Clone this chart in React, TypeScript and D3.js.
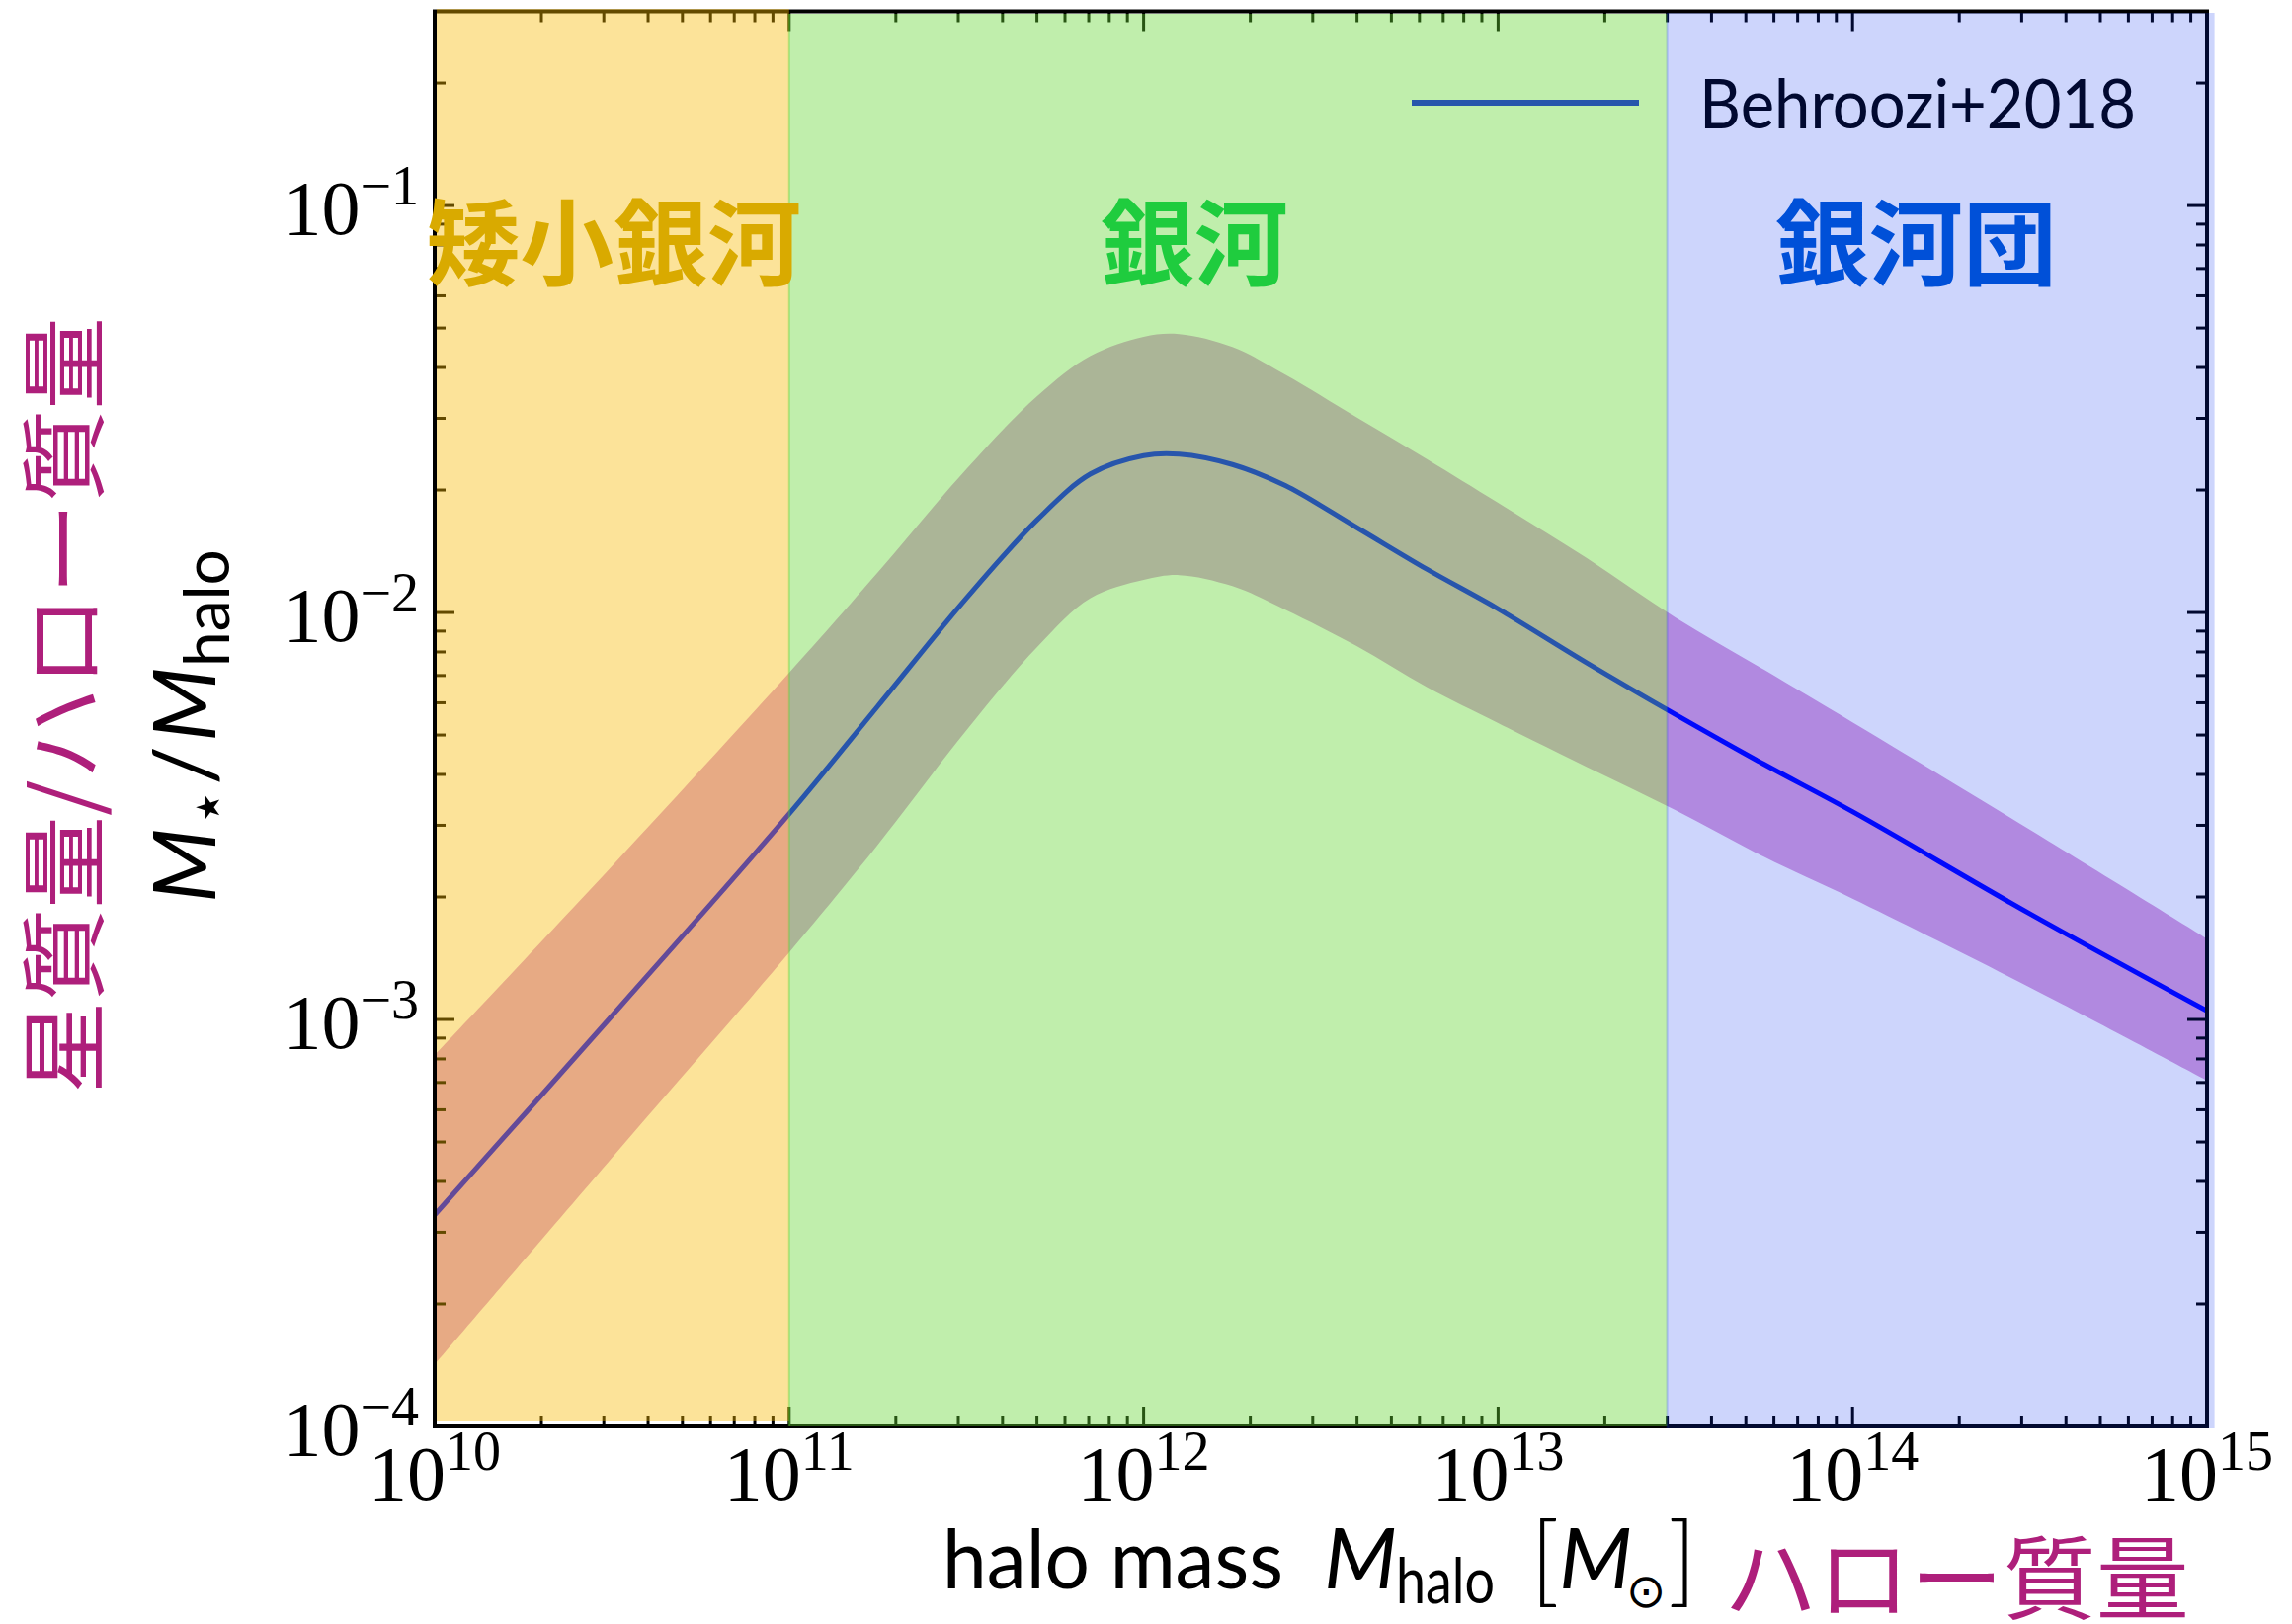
import React from "react";
import * as d3 from "d3";

// ---- data ----
const haloMass = [1e10, 3.16e10, 1e11, 1.78e11, 3.16e11, 5.01e11, 7.08e11, 1e12, 1.26e12, 1.78e12, 2.51e12, 3.98e12, 6.31e12, 1e13, 1.78e13, 3.16e13, 5.62e13, 1e14, 3.16e14, 1e15];
const smhmMedian = [3.31e-4, 1.02e-3, 3.2e-3, 5.89e-3, 1.084e-2, 1.69e-2, 2.19e-2, 2.43e-2, 2.45e-2, 2.31e-2, 2.05e-2, 1.62e-2, 1.276e-2, 1.021e-2, 7.52e-3, 5.62e-3, 4.24e-3, 3.24e-3, 1.82e-3, 1.05e-3];
const smhmUpper = [8.18e-4, 2.38e-3, 7.11e-3, 1.256e-2, 2.25e-2, 3.4e-2, 4.27e-2, 4.76e-2, 4.83e-2, 4.49e-2, 3.84e-2, 3.02e-2, 2.38e-2, 1.86e-2, 1.36e-2, 9.73e-3, 7.24e-3, 5.37e-3, 2.93e-3, 1.58e-3];
const smhmLower = [1.42e-4, 4.57e-4, 1.46e-3, 2.69e-3, 5.13e-3, 8.22e-3, 1.084e-2, 1.202e-2, 1.236e-2, 1.161e-2, 1.016e-2, 8.28e-3, 6.55e-3, 5.35e-3, 4.17e-3, 3.27e-3, 2.51e-3, 1.98e-3, 1.2e-3, 7.08e-4];

const regionNames = ["矮小銀河", "銀河", "銀河団"];
const regionLo = [1e10, 1e11, 3e13];
const regionHi = [1e11, 3e13, 1.05e15];
const regionLabelMass = [3.2e10, 1.39e12, 1.51e14];
const regionLabelRatio = [0.081, 0.081, 0.081];

const xTickExps = [10, 11, 12, 13, 14, 15];
const yTickExps = [-4, -3, -2, -1];
const legendLabel = "Behroozi+2018";

// ---- styles ----
const W = 2320, H = 1644;
const L = 440, R = 2234, T = 11.5, B = 1444;
const SERIF = "'Liberation Serif', 'DejaVu Serif', serif";
const SANS = "Lato, 'Open Sans', sans-serif";
const CJK = "'Noto Sans CJK JP', 'Noto Sans CJK SC', sans-serif";
const MAGENTA = "#ae1f7b";
const regionFill = ["rgb(248,185,0)", "rgb(97,212,47)", "rgb(5,45,240)"];
const regionAlpha = [0.4, 0.4, 0.2];
const regionText = ["#d9aa00", "#1fcc3e", "#0050d8"];
const regionY = [[9, 1439], [14, 1444], [13, 1446]];

export default function App() {
  const x = d3.scaleLog().domain([1e10, 1e15]).range([L, R]);
  const y = d3.scaleLog().domain([1e-4, 0.3]).range([B, T]);

  const idx = d3.range(haloMass.length);
  const curve = d3.curveCatmullRom.alpha(0.5);
  const area = d3
    .area<number>()
    .x((i) => x(haloMass[i]))
    .y0((i) => y(smhmLower[i]))
    .y1((i) => y(smhmUpper[i]))
    .curve(curve);
  const line = d3
    .line<number>()
    .x((i) => x(haloMass[i]))
    .y((i) => y(smhmMedian[i]))
    .curve(curve);

  // ticks
  const xMajor = xTickExps.map((e) => Math.pow(10, e));
  const xMinor: number[] = [];
  for (let e = 10; e < 15; e++) for (let k = 2; k <= 9; k++) xMinor.push(k * Math.pow(10, e));
  const yMajor = yTickExps.map((e) => Math.pow(10, e));
  const yMinor: number[] = [];
  for (let e = -4; e <= -1; e++)
    for (let k = 2; k <= 9; k++) {
      const v = k * Math.pow(10, e);
      if (v < 0.3) yMinor.push(v);
    }

  const MAJ = 20, MIN = 11, TW = 3;
  const tickLines: JSX.Element[] = [];
  const addX = (v: number, len: number, key: string) => {
    const px = x(v);
    tickLines.push(<line key={key + "b"} x1={px} x2={px} y1={B} y2={B - len} stroke="#000" strokeWidth={TW} />);
    tickLines.push(<line key={key + "t"} x1={px} x2={px} y1={T} y2={T + len} stroke="#000" strokeWidth={TW} />);
  };
  const addY = (v: number, len: number, key: string) => {
    const py = y(v);
    tickLines.push(<line key={key + "l"} x1={L} x2={L + len} y1={py} y2={py} stroke="#000" strokeWidth={TW} />);
    tickLines.push(<line key={key + "r"} x1={R} x2={R - len} y1={py} y2={py} stroke="#000" strokeWidth={TW} />);
  };
  xMajor.forEach((v, i) => addX(v, MAJ, "xM" + i));
  xMinor.forEach((v, i) => addX(v, MIN, "xm" + i));
  yMajor.forEach((v, i) => addY(v, MAJ, "yM" + i));
  yMinor.forEach((v, i) => addY(v, MIN, "ym" + i));

  return (
    <svg
      width={W}
      height={H}
      viewBox={`0 0 ${W} ${H}`}
      style={{ position: "absolute", left: 0, top: 0, display: "block", background: "#fff" }}
    >
      <defs>
        <clipPath id="plotclip">
          <rect x={L} y={T} width={R - L} height={B - T} />
        </clipPath>
      </defs>
      <rect x={0} y={0} width={W} height={H} fill="#fff" />

      <g clipPath="url(#plotclip)">
        <path d={area(idx) || ""} fill="rgb(221,160,221)" />
        <path d={line(idx) || ""} fill="none" stroke="rgb(0,0,255)" strokeWidth={5} />
      </g>

      {/* legend (under the region overlays) */}
      <line x1={1429} x2={1659} y1={104} y2={104} stroke="rgb(0,0,255)" strokeWidth={6} />
      <text x={1720} y={130} fontFamily={SANS} fontSize={70} textLength={442} lengthAdjust="spacingAndGlyphs" fill="#000">
        {legendLabel}
      </text>

      {/* ticks and spines */}
      <g>{tickLines}</g>
      <rect x={L} y={T} width={R - L} height={B - T} fill="none" stroke="#000" strokeWidth={4} />

      {/* region overlays */}
      {regionLo.map((lo, i) => {
        const x0 = i === 0 ? L + 2 : x(lo);
        const x1 = x(regionHi[i]);
        return (
          <g key={"reg" + i}>
            <rect
              x={x0}
              y={regionY[i][0]}
              width={x1 - x0}
              height={regionY[i][1] - regionY[i][0]}
              fill={regionFill[i]}
              fillOpacity={regionAlpha[i]}
            />
            {i > 0 && (
              <line x1={x0} x2={x0} y1={regionY[i][0]} y2={regionY[i][1]} stroke={regionFill[i]} strokeOpacity={regionAlpha[i]} strokeWidth={2} />
            )}
          </g>
        );
      })}

      {/* region labels */}
      {regionNames.map((name, i) => (
        <text
          key={"rn" + i}
          x={x(regionLabelMass[i])}
          y={y(regionLabelRatio[i]) + 36}
          textAnchor="middle"
          fontFamily={CJK}
          fontWeight={700}
          fontSize={95}
          fill={regionText[i]}
        >
          {name}
        </text>
      ))}

      {/* x tick labels */}
      {xMajor.map((v, i) => (
        <text key={"xl" + i} x={x(v)} y={B + 74} textAnchor="middle" fontFamily={SERIF} fontSize={78} fill="#000">
          10
          <tspan dy={-30} fontSize={56}>
            {xTickExps[i]}
          </tspan>
        </text>
      ))}

      {/* y tick labels */}
      {yMajor.map((v, i) => (
        <text key={"yl" + i} x={424} y={y(v) + 29} textAnchor="end" fontFamily={SERIF} fontSize={78} fill="#000">
          10
          <tspan dy={-30} fontSize={56}>
            {"\u2212" + Math.abs(yTickExps[i])}
          </tspan>
        </text>
      ))}

      {/* x axis label */}
      <text x={954} y={1608} fontFamily={SANS} fontSize={84} textLength={345} lengthAdjust="spacingAndGlyphs" fill="#000">
        halo mass
      </text>
      <text x={1340} y={1608} fontFamily={SANS} fontStyle="italic" fontSize={86} fill="#000">
        M
      </text>
      <text x={1413} y={1623} fontFamily={SANS} fontSize={64} textLength={100} lengthAdjust="spacingAndGlyphs" fill="#000">
        halo
      </text>
      <text x={1549} y={1614} fontFamily={SANS} fontSize={100} fontWeight={300} fill="#000">
        [
      </text>
      <text x={1578} y={1608} fontFamily={SANS} fontStyle="italic" fontSize={86} fill="#000">
        M
      </text>
      <text x={1646} y={1627} fontFamily="'DejaVu Sans', sans-serif" fontSize={48} fill="#000">
        ⊙
      </text>
      <text x={1688} y={1614} fontFamily={SANS} fontSize={100} fontWeight={300} fill="#000">
        ]
      </text>
      <text x={1745} y={1632} fontFamily={CJK} fontSize={92} textLength={471} lengthAdjust="spacingAndGlyphs" fill={MAGENTA}>
        ハロー質量
      </text>

      {/* y axis labels */}
      <text
        transform="translate(97,714) rotate(-90)"
        textAnchor="middle"
        fontFamily={CJK}
        fontSize={88}
        textLength={786}
        lengthAdjust="spacingAndGlyphs"
        fill={MAGENTA}
      >
        星質量/ハロー質量
      </text>
      <text transform="translate(218,735) rotate(-90)" textAnchor="middle" fontFamily={SANS} fontSize={88} fill="#000">
        <tspan fontStyle="italic">M</tspan>
        <tspan dy={14} fontSize={66} fontFamily="'DejaVu Sans', sans-serif">
          ⋆
        </tspan>
        <tspan dy={-14} dx={2}>
          /
        </tspan>
        <tspan fontStyle="italic" dx={4}>
          M
        </tspan>
        <tspan dy={14} fontSize={64}>
          halo
        </tspan>
      </text>
    </svg>
  );
}
